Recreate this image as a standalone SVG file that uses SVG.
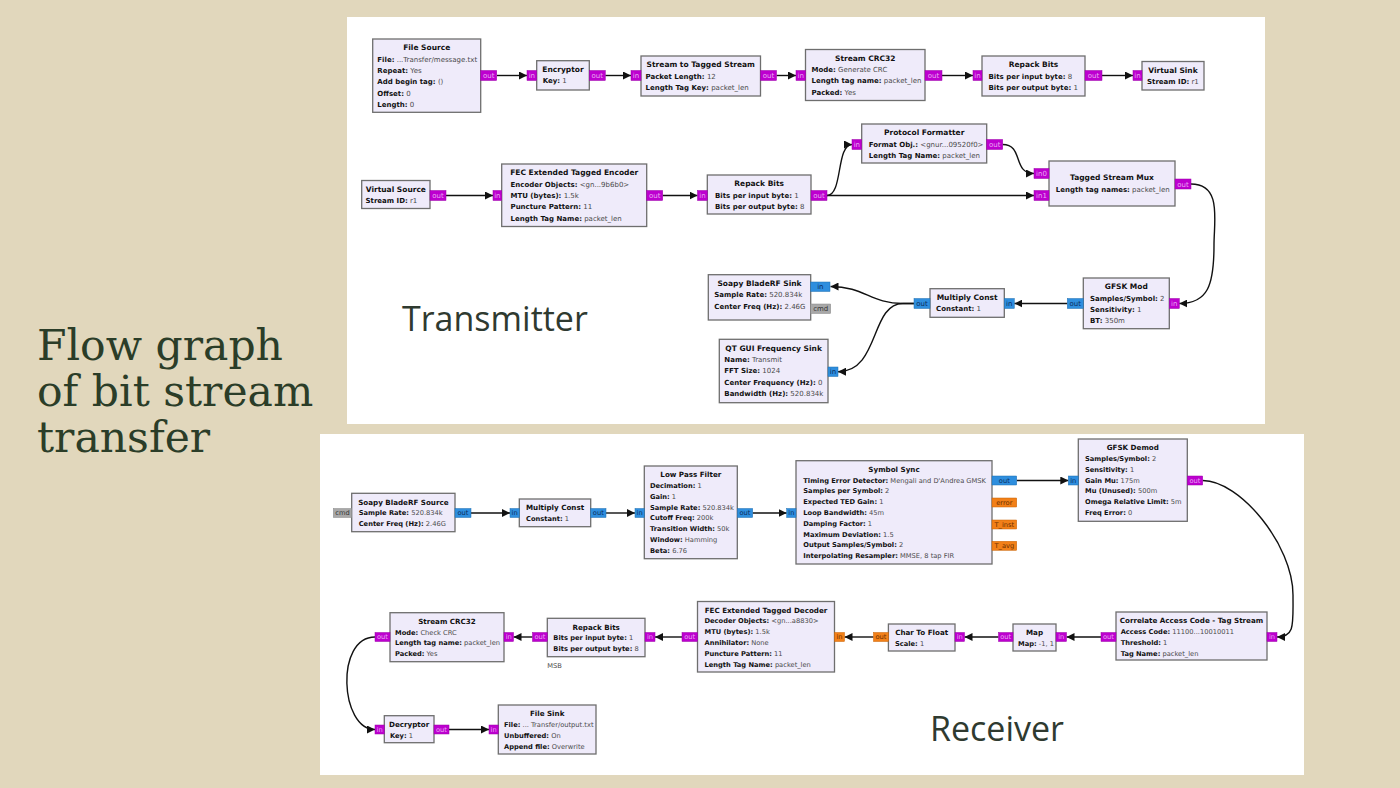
<svg xmlns="http://www.w3.org/2000/svg" width="1400" height="788" viewBox="0 0 1400 788">
<defs>
<style>
.b{fill:#efebfa;stroke:#6e6e6e;stroke-width:1.3}
.t{font-family:"DejaVu Sans",sans-serif;font-weight:bold;font-size:7.5px;text-anchor:middle;fill:#111}
.p{font-family:"DejaVu Sans",sans-serif;font-size:7px;fill:#4a4a4a}
.k{font-weight:bold;fill:#111}
.pl{font-family:"DejaVu Sans",sans-serif;font-size:7px;text-anchor:middle}
.rx .t{font-size:7.15px}
.rx .p,.rx .pl{font-size:6.7px}
.pb{fill:#bd00cf;stroke:#9a00a8;stroke-width:0.5}
.pc{fill:#2e8ede;stroke:#1f6fb0;stroke-width:0.5}
.pf{fill:#f28018;stroke:#c86000;stroke-width:0.5}
.pm{fill:#a8a8a8;stroke:#888;stroke-width:0.5}
.lb{fill:#eaa8f3}
.lc{fill:#0b2d5c}
.lf{fill:#6b2f00}
.lm{fill:#333}
.e{fill:none;stroke:#111;stroke-width:1.4;marker-end:url(#a)}
.big{font-family:"DejaVu Serif",serif;font-size:42.5px;fill:#2b3d28}
.lab{font-family:"Open Sans",sans-serif;font-size:34px;fill:#2f3a30}
</style>
<marker id="a" viewBox="0 0 10 10" refX="10" refY="5" markerWidth="8" markerHeight="8" markerUnits="userSpaceOnUse" orient="auto"><path d="M0,0 L10,5 L0,10 z" fill="#111"/></marker>
</defs>
<rect width="1400" height="788" fill="#e1d7bc"/>
<rect x="347" y="17" width="918" height="407" fill="#ffffff"/>
<rect x="320" y="434" width="984" height="341" fill="#ffffff"/>
<text class="big" x="37" y="360">Flow graph</text>
<text class="big" x="37" y="406">of bit stream</text>
<text class="big" x="37" y="452">transfer</text>
<text class="lab" x="402" y="331">Transmitter</text>
<text class="lab" x="930" y="741">Receiver</text>

<g id="connectors">
<path class="e" d="M497 75.5 H527"/>
<path class="e" d="M605.3 75.5 H631"/>
<path class="e" d="M776.5 75.5 H796"/>
<path class="e" d="M942 75.5 H973"/>
<path class="e" d="M1102 75.5 H1133"/>
<path class="e" d="M446 195.5 H493"/>
<path class="e" d="M662.7 195.5 H697.5"/>
<path class="e" d="M827 195.5 C843 195.5 836 144.5 852 144.5"/>
<path class="e" d="M827 195.5 H1034"/>
<path class="e" d="M1002.7 144.5 C1024 144.5 1012 173.5 1034 173.5"/>
<path class="e" d="M1191 184 C1222 184 1214 220 1214 245 C1214 285 1208 303.5 1179.3 303.5"/>
<path class="e" d="M1067.3 303.5 H1014.3"/>
<path class="e" d="M914 303.5 H903 C870 303.5 865 286.5 830.5 286.5"/>
<path class="e" d="M914 303.5 H903 C870 303.5 880 371.7 838 371.7"/>
<path class="e" d="M471 513 H510"/>
<path class="e" d="M606 513 H635"/>
<path class="e" d="M752.7 513 H786.7"/>
<path class="e" d="M1016.7 480.5 H1068.3"/>
<path class="e" d="M1202.7 480.5 C1240 480.5 1293 545 1293 595 C1293 625 1295 637 1277 637"/>
<path class="e" d="M1101 637 H1066.5"/>
<path class="e" d="M998.5 637 H964.5"/>
<path class="e" d="M873.5 637 H844.5"/>
<path class="e" d="M682 637 H655"/>
<path class="e" d="M532.5 637 H513.5"/>
<path class="e" d="M375 637 C335 637 340 729.5 375 729.5"/>
<path class="e" d="M449 729.5 H489"/>
</g>

<g id="tx-nodes">
<g id="file-source">
<rect class="b" x="372.7" y="39" width="108" height="73.3"/>
<text class="t" x="426.7" y="50.4">File Source</text>
<text class="p" x="377.3" y="61.55"><tspan class="k">File:</tspan> ...Transfer/message.txt</text>
<text class="p" x="377.3" y="72.9"><tspan class="k">Repeat:</tspan> Yes</text>
<text class="p" x="377.3" y="84.25"><tspan class="k">Add begin tag:</tspan> ()</text>
<text class="p" x="377.3" y="95.6"><tspan class="k">Offset:</tspan> 0</text>
<text class="p" x="377.3" y="106.95"><tspan class="k">Length:</tspan> 0</text>
<rect class="pb" x="480.7" y="70.5" width="16" height="10"/>
<text class="pl lb" x="488.7" y="78">out</text>
</g>
<g id="encryptor">
<rect class="b" x="536.7" y="60.7" width="52.6" height="29.3"/>
<text class="t" x="563" y="72.1">Encryptor</text>
<text class="p" x="542.7" y="83.25"><tspan class="k">Key:</tspan> 1</text>
<rect class="pb" x="527" y="70.5" width="9.7" height="10"/>
<text class="pl lb" x="531.85" y="78">in</text>
<rect class="pb" x="589.3" y="70.5" width="16" height="10"/>
<text class="pl lb" x="597.3" y="78">out</text>
</g>
<g id="stream-to-tagged">
<rect class="b" x="641" y="56" width="119.5" height="40"/>
<text class="t" x="700.75" y="67.4">Stream to Tagged Stream</text>
<text class="p" x="645.5" y="78.55"><tspan class="k">Packet Length:</tspan> 12</text>
<text class="p" x="645.5" y="89.9"><tspan class="k">Length Tag Key:</tspan> packet_len</text>
<rect class="pb" x="631" y="70.5" width="10" height="10"/>
<text class="pl lb" x="636" y="78">in</text>
<rect class="pb" x="760.5" y="70.5" width="16" height="10"/>
<text class="pl lb" x="768.5" y="78">out</text>
</g>
<g id="stream-crc32-tx">
<rect class="b" x="805.5" y="49.5" width="119.5" height="51"/>
<text class="t" x="865.25" y="60.9">Stream CRC32</text>
<text class="p" x="811.5" y="72.05"><tspan class="k">Mode:</tspan> Generate CRC</text>
<text class="p" x="811.5" y="83.4"><tspan class="k">Length tag name:</tspan> packet_len</text>
<text class="p" x="811.5" y="94.75"><tspan class="k">Packed:</tspan> Yes</text>
<rect class="pb" x="796" y="70.5" width="9.5" height="10"/>
<text class="pl lb" x="800.75" y="78">in</text>
<rect class="pb" x="925" y="70.5" width="17" height="10"/>
<text class="pl lb" x="933.5" y="78">out</text>
</g>
<g id="repack-bits-tx1">
<rect class="b" x="982" y="56" width="103" height="40"/>
<text class="t" x="1033.5" y="67.4">Repack Bits</text>
<text class="p" x="988.5" y="78.55"><tspan class="k">Bits per input byte:</tspan> 8</text>
<text class="p" x="988.5" y="89.9"><tspan class="k">Bits per output byte:</tspan> 1</text>
<rect class="pb" x="973" y="70.5" width="9" height="10"/>
<text class="pl lb" x="977.5" y="78">in</text>
<rect class="pb" x="1085" y="70.5" width="17" height="10"/>
<text class="pl lb" x="1093.5" y="78">out</text>
</g>
<g id="virtual-sink">
<rect class="b" x="1142" y="61.5" width="62" height="28.5"/>
<text class="t" x="1173" y="72.9">Virtual Sink</text>
<text class="p" x="1147" y="84.05"><tspan class="k">Stream ID:</tspan> r1</text>
<rect class="pb" x="1133" y="70.5" width="9" height="10"/>
<text class="pl lb" x="1137.5" y="78">in</text>
</g>
<g id="virtual-source">
<rect class="b" x="361.7" y="180.5" width="68.3" height="28"/>
<text class="t" x="395.85" y="191.9">Virtual Source</text>
<text class="p" x="365.5" y="203.05"><tspan class="k">Stream ID:</tspan> r1</text>
<rect class="pb" x="430" y="190.5" width="16" height="10"/>
<text class="pl lb" x="438" y="198">out</text>
</g>
<g id="fec-encoder">
<rect class="b" x="501.7" y="164" width="145" height="62.5"/>
<text class="t" x="574.2" y="175.4">FEC Extended Tagged Encoder</text>
<text class="p" x="510.5" y="186.55"><tspan class="k">Encoder Objects:</tspan> &lt;gn...9b6b0&gt;</text>
<text class="p" x="510.5" y="197.9"><tspan class="k">MTU (bytes):</tspan> 1.5k</text>
<text class="p" x="510.5" y="209.25"><tspan class="k">Puncture Pattern:</tspan> 11</text>
<text class="p" x="510.5" y="220.6"><tspan class="k">Length Tag Name:</tspan> packet_len</text>
<rect class="pb" x="493" y="190.5" width="8.7" height="10"/>
<text class="pl lb" x="497.35" y="198">in</text>
<rect class="pb" x="646.7" y="190.5" width="16" height="10"/>
<text class="pl lb" x="654.7" y="198">out</text>
</g>
<g id="repack-bits-tx2">
<rect class="b" x="707.3" y="175" width="103.7" height="39"/>
<text class="t" x="759.15" y="186.4">Repack Bits</text>
<text class="p" x="715" y="197.55"><tspan class="k">Bits per input byte:</tspan> 1</text>
<text class="p" x="715" y="208.9"><tspan class="k">Bits per output byte:</tspan> 8</text>
<rect class="pb" x="697.5" y="190.5" width="9.8" height="10"/>
<text class="pl lb" x="702.4" y="198">in</text>
<rect class="pb" x="811" y="190.5" width="16" height="10"/>
<text class="pl lb" x="819" y="198">out</text>
</g>
<g id="protocol-formatter">
<rect class="b" x="861.7" y="124" width="125" height="39"/>
<text class="t" x="924.2" y="135.4">Protocol Formatter</text>
<text class="p" x="868.7" y="146.55"><tspan class="k">Format Obj.:</tspan> &lt;gnur...09520f0&gt;</text>
<text class="p" x="868.7" y="157.9"><tspan class="k">Length Tag Name:</tspan> packet_len</text>
<rect class="pb" x="852" y="139.5" width="9.7" height="10"/>
<text class="pl lb" x="856.85" y="147">in</text>
<rect class="pb" x="986.7" y="139.5" width="16" height="10"/>
<text class="pl lb" x="994.7" y="147">out</text>
</g>
<g id="tagged-stream-mux">
<rect class="b" x="1049" y="161" width="126" height="45"/>
<text class="t" x="1112" y="180.4">Tagged Stream Mux</text>
<text class="p" x="1055.7" y="192.3"><tspan class="k">Length tag names:</tspan> packet_len</text>
<rect class="pb" x="1034" y="168.5" width="15" height="10"/>
<text class="pl lb" x="1041.5" y="176">in0</text>
<rect class="pb" x="1034" y="190.5" width="15" height="10"/>
<text class="pl lb" x="1041.5" y="198">in1</text>
<rect class="pb" x="1175" y="179" width="16" height="10"/>
<text class="pl lb" x="1183" y="186.5">out</text>
</g>
<g id="gfsk-mod">
<rect class="b" x="1083.3" y="278" width="86" height="50.7"/>
<text class="t" x="1126.3" y="289.4">GFSK Mod</text>
<text class="p" x="1090" y="300.55"><tspan class="k">Samples/Symbol:</tspan> 2</text>
<text class="p" x="1090" y="311.9"><tspan class="k">Sensitivity:</tspan> 1</text>
<text class="p" x="1090" y="323.25"><tspan class="k">BT:</tspan> 350m</text>
<rect class="pb" x="1169.3" y="298.5" width="10" height="10"/>
<text class="pl lb" x="1174.3" y="306">in</text>
<rect class="pc" x="1067.3" y="298.5" width="16" height="10"/>
<text class="pl lc" x="1075.3" y="306">out</text>
</g>
<g id="multiply-const-tx">
<rect class="b" x="930" y="288.7" width="74.3" height="28.6"/>
<text class="t" x="967.15" y="300.1">Multiply Const</text>
<text class="p" x="936" y="311.25"><tspan class="k">Constant:</tspan> 1</text>
<rect class="pc" x="1004.3" y="298.5" width="10" height="10"/>
<text class="pl lc" x="1009.3" y="306">in</text>
<rect class="pc" x="914" y="298.5" width="16" height="10"/>
<text class="pl lc" x="922" y="306">out</text>
</g>
<g id="soapy-sink">
<rect class="b" x="708.3" y="274.7" width="102.4" height="45.3"/>
<text class="t" x="759.5" y="286.1">Soapy BladeRF Sink</text>
<text class="p" x="714.3" y="297.25"><tspan class="k">Sample Rate:</tspan> 520.834k</text>
<text class="p" x="714.3" y="308.6"><tspan class="k">Center Freq (Hz):</tspan> 2.46G</text>
<rect class="pc" x="810.7" y="282" width="19.3" height="9.5"/>
<text class="pl lc" x="820.35" y="289">in</text>
<rect class="pm" x="810.7" y="304" width="20" height="9.5"/>
<text class="pl lm" x="820.7" y="311.2">cmd</text>
</g>
<g id="qt-gui-freq-sink">
<rect class="b" x="719.3" y="339.3" width="108.7" height="63.4"/>
<text class="t" x="773.65" y="350.7">QT GUI Frequency Sink</text>
<text class="p" x="724.3" y="361.85"><tspan class="k">Name:</tspan> Transmit</text>
<text class="p" x="724.3" y="373.2"><tspan class="k">FFT Size:</tspan> 1024</text>
<text class="p" x="724.3" y="384.55"><tspan class="k">Center Frequency (Hz):</tspan> 0</text>
<text class="p" x="724.3" y="395.9"><tspan class="k">Bandwidth (Hz):</tspan> 520.834k</text>
<rect class="pc" x="828" y="367" width="10" height="9.5"/>
<text class="pl lc" x="833" y="374.2">in</text>
</g>
</g>

<g id="rx-nodes" class="rx">
<g id="soapy-source">
<rect class="b" x="351.7" y="493.3" width="103.3" height="38.4"/>
<text class="t" x="403.35" y="504.6">Soapy BladeRF Source</text>
<text class="p" x="358.7" y="515.2"><tspan class="k">Sample Rate:</tspan> 520.834k</text>
<text class="p" x="358.7" y="526"><tspan class="k">Center Freq (Hz):</tspan> 2.46G</text>
<rect class="pm" x="333.3" y="508.5" width="18.4" height="9"/>
<text class="pl lm" x="342.5" y="515.4">cmd</text>
<rect class="pc" x="455" y="508.5" width="16" height="9"/>
<text class="pl lc" x="463" y="515.4">out</text>
</g>
<g id="multiply-const-rx">
<rect class="b" x="519.3" y="499" width="71.4" height="27.7"/>
<text class="t" x="555" y="510.3">Multiply Const</text>
<text class="p" x="526" y="520.9"><tspan class="k">Constant:</tspan> 1</text>
<rect class="pc" x="510" y="508.5" width="9.3" height="9"/>
<text class="pl lc" x="514.65" y="515.4">in</text>
<rect class="pc" x="590.7" y="508.5" width="15.3" height="9"/>
<text class="pl lc" x="598.35" y="515.4">out</text>
</g>
<g id="low-pass-filter">
<rect class="b" x="644.3" y="466" width="93" height="92.7"/>
<text class="t" x="690.8" y="477.3">Low Pass Filter</text>
<text class="p" x="650" y="487.9"><tspan class="k">Decimation:</tspan> 1</text>
<text class="p" x="650" y="498.7"><tspan class="k">Gain:</tspan> 1</text>
<text class="p" x="650" y="509.5"><tspan class="k">Sample Rate:</tspan> 520.834k</text>
<text class="p" x="650" y="520.3"><tspan class="k">Cutoff Freq:</tspan> 200k</text>
<text class="p" x="650" y="531.1"><tspan class="k">Transition Width:</tspan> 50k</text>
<text class="p" x="650" y="541.9"><tspan class="k">Window:</tspan> Hamming</text>
<text class="p" x="650" y="552.7"><tspan class="k">Beta:</tspan> 6.76</text>
<rect class="pc" x="635" y="508.5" width="9.3" height="9"/>
<text class="pl lc" x="639.65" y="515.4">in</text>
<rect class="pc" x="737.3" y="508.5" width="15.4" height="9"/>
<text class="pl lc" x="745" y="515.4">out</text>
</g>
<g id="symbol-sync">
<rect class="b" x="796" y="460.7" width="196" height="103.3"/>
<text class="t" x="894" y="472">Symbol Sync</text>
<text class="p" x="803.3" y="482.6"><tspan class="k">Timing Error Detector:</tspan> Mengali and D'Andrea GMSK</text>
<text class="p" x="803.3" y="493.4"><tspan class="k">Samples per Symbol:</tspan> 2</text>
<text class="p" x="803.3" y="504.2"><tspan class="k">Expected TED Gain:</tspan> 1</text>
<text class="p" x="803.3" y="515"><tspan class="k">Loop Bandwidth:</tspan> 45m</text>
<text class="p" x="803.3" y="525.8"><tspan class="k">Damping Factor:</tspan> 1</text>
<text class="p" x="803.3" y="536.6"><tspan class="k">Maximum Deviation:</tspan> 1.5</text>
<text class="p" x="803.3" y="547.4"><tspan class="k">Output Samples/Symbol:</tspan> 2</text>
<text class="p" x="803.3" y="558.2"><tspan class="k">Interpolating Resampler:</tspan> MMSE, 8 tap FIR</text>
<rect class="pc" x="786.7" y="508.5" width="9.3" height="9"/>
<text class="pl lc" x="791.35" y="515.4">in</text>
<rect class="pc" x="992" y="476" width="24.7" height="9"/>
<text class="pl lc" x="1004.35" y="482.9">out</text>
<rect class="pf" x="992" y="498" width="24.7" height="9"/>
<text class="pl lf" x="1004.35" y="504.9">error</text>
<rect class="pf" x="992" y="520" width="24.7" height="9"/>
<text class="pl lf" x="1004.35" y="526.9">T_inst</text>
<rect class="pf" x="992" y="541.3" width="24.7" height="9"/>
<text class="pl lf" x="1004.35" y="548.2">T_avg</text>
</g>
<g id="gfsk-demod">
<rect class="b" x="1078.3" y="439" width="109" height="82.3"/>
<text class="t" x="1132.8" y="450.3">GFSK Demod</text>
<text class="p" x="1085" y="460.9"><tspan class="k">Samples/Symbol:</tspan> 2</text>
<text class="p" x="1085" y="471.7"><tspan class="k">Sensitivity:</tspan> 1</text>
<text class="p" x="1085" y="482.5"><tspan class="k">Gain Mu:</tspan> 175m</text>
<text class="p" x="1085" y="493.3"><tspan class="k">Mu (Unused):</tspan> 500m</text>
<text class="p" x="1085" y="504.1"><tspan class="k">Omega Relative Limit:</tspan> 5m</text>
<text class="p" x="1085" y="514.9"><tspan class="k">Freq Error:</tspan> 0</text>
<rect class="pc" x="1068.3" y="476" width="10" height="9"/>
<text class="pl lc" x="1073.3" y="482.9">in</text>
<rect class="pb" x="1187.3" y="476" width="15.4" height="9"/>
<text class="pl lb" x="1195" y="482.9">out</text>
</g>
<g id="correlate-access-code">
<rect class="b" x="1116" y="612" width="151" height="48"/>
<text class="t" x="1191.5" y="623.3">Correlate Access Code - Tag Stream</text>
<text class="p" x="1120.7" y="633.9"><tspan class="k">Access Code:</tspan> 11100...10010011</text>
<text class="p" x="1120.7" y="644.7"><tspan class="k">Threshold:</tspan> 1</text>
<text class="p" x="1120.7" y="655.5"><tspan class="k">Tag Name:</tspan> packet_len</text>
<rect class="pb" x="1267" y="632.5" width="10" height="9"/>
<text class="pl lb" x="1272" y="639.4">in</text>
<rect class="pb" x="1101" y="632.5" width="15" height="9"/>
<text class="pl lb" x="1108.5" y="639.4">out</text>
</g>
<g id="map">
<rect class="b" x="1013" y="624" width="43" height="27"/>
<text class="t" x="1034.5" y="635.3">Map</text>
<text class="p" x="1018" y="645.9"><tspan class="k">Map:</tspan> -1, 1</text>
<rect class="pb" x="1056" y="632.5" width="10.5" height="9"/>
<text class="pl lb" x="1061.25" y="639.4">in</text>
<rect class="pb" x="998.5" y="632.5" width="14.5" height="9"/>
<text class="pl lb" x="1005.75" y="639.4">out</text>
</g>
<g id="char-to-float">
<rect class="b" x="888.4" y="624" width="66.6" height="27"/>
<text class="t" x="921.7" y="635.3">Char To Float</text>
<text class="p" x="895" y="645.9"><tspan class="k">Scale:</tspan> 1</text>
<rect class="pb" x="955" y="632.5" width="9.5" height="9"/>
<text class="pl lb" x="959.75" y="639.4">in</text>
<rect class="pf" x="873.5" y="632.5" width="15" height="9"/>
<text class="pl lf" x="881" y="639.4">out</text>
</g>
<g id="fec-decoder">
<rect class="b" x="697.5" y="601.5" width="137" height="70.5"/>
<text class="t" x="766" y="612.8">FEC Extended Tagged Decoder</text>
<text class="p" x="704.5" y="623.4"><tspan class="k">Decoder Objects:</tspan> &lt;gn...a8830&gt;</text>
<text class="p" x="704.5" y="634.2"><tspan class="k">MTU (bytes):</tspan> 1.5k</text>
<text class="p" x="704.5" y="645"><tspan class="k">Annihilator:</tspan> None</text>
<text class="p" x="704.5" y="655.8"><tspan class="k">Puncture Pattern:</tspan> 11</text>
<text class="p" x="704.5" y="666.6"><tspan class="k">Length Tag Name:</tspan> packet_len</text>
<rect class="pf" x="834.5" y="632.5" width="10" height="9"/>
<text class="pl lf" x="839.5" y="639.4">in</text>
<rect class="pb" x="682" y="632.5" width="15.5" height="9"/>
<text class="pl lb" x="689.75" y="639.4">out</text>
</g>
<g id="repack-bits-rx">
<rect class="b" x="547.3" y="618.3" width="97.7" height="38.4"/>
<text class="t" x="596.15" y="629.6">Repack Bits</text>
<text class="p" x="553.3" y="640.2"><tspan class="k">Bits per input byte:</tspan> 1</text>
<text class="p" x="553.3" y="651"><tspan class="k">Bits per output byte:</tspan> 8</text>
<rect class="pb" x="645" y="632.5" width="10" height="9"/>
<text class="pl lb" x="650" y="639.4">in</text>
<rect class="pb" x="532.5" y="632.5" width="14.8" height="9"/>
<text class="pl lb" x="539.9" y="639.4">out</text>
<text class="p" x="547.3" y="667.5" fill="#8a8a8a">MSB</text>
</g>
<g id="stream-crc32-rx">
<rect class="b" x="390" y="612.7" width="114" height="49"/>
<text class="t" x="447" y="624">Stream CRC32</text>
<text class="p" x="395" y="634.6"><tspan class="k">Mode:</tspan> Check CRC</text>
<text class="p" x="395" y="645.4"><tspan class="k">Length tag name:</tspan> packet_len</text>
<text class="p" x="395" y="656.2"><tspan class="k">Packed:</tspan> Yes</text>
<rect class="pb" x="504" y="632.5" width="9.5" height="9"/>
<text class="pl lb" x="508.75" y="639.4">in</text>
<rect class="pb" x="375" y="632.5" width="15" height="9"/>
<text class="pl lb" x="382.5" y="639.4">out</text>
</g>
<g id="decryptor">
<rect class="b" x="384.3" y="715.7" width="49.7" height="27"/>
<text class="t" x="409.15" y="727">Decryptor</text>
<text class="p" x="390" y="737.6"><tspan class="k">Key:</tspan> 1</text>
<rect class="pb" x="375" y="725" width="9.3" height="9"/>
<text class="pl lb" x="379.65" y="731.9">in</text>
<rect class="pb" x="434" y="725" width="15" height="9"/>
<text class="pl lb" x="441.5" y="731.9">out</text>
</g>
<g id="file-sink">
<rect class="b" x="498.3" y="705" width="97.7" height="49"/>
<text class="t" x="547.15" y="716.3">File Sink</text>
<text class="p" x="504" y="726.9"><tspan class="k">File:</tspan> ... Transfer/output.txt</text>
<text class="p" x="504" y="737.7"><tspan class="k">Unbuffered:</tspan> On</text>
<text class="p" x="504" y="748.5"><tspan class="k">Append file:</tspan> Overwrite</text>
<rect class="pb" x="489" y="725" width="9.3" height="9"/>
<text class="pl lb" x="493.65" y="731.9">in</text>
</g>
</g>
</svg>
